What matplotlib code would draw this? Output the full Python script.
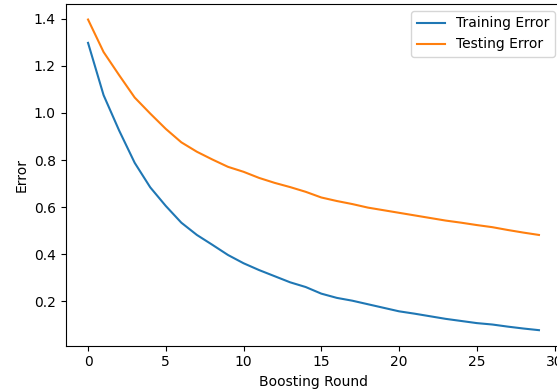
import matplotlib
matplotlib.use("Agg")
import matplotlib.pyplot as plt

# error per boosting round
rounds = list(range(30))
train_err = [1.297, 1.075, 0.925, 0.788, 0.684, 0.605, 0.534, 0.482, 0.440, 0.397,
             0.362, 0.333, 0.307, 0.281, 0.261, 0.233, 0.215, 0.203, 0.188, 0.173,
             0.158, 0.148, 0.137, 0.126, 0.117, 0.108, 0.102, 0.093, 0.085, 0.078]
test_err = [1.396, 1.258, 1.160, 1.065, 0.997, 0.932, 0.875, 0.835, 0.802, 0.771,
            0.750, 0.724, 0.703, 0.685, 0.665, 0.641, 0.626, 0.613, 0.598, 0.587,
            0.576, 0.565, 0.554, 0.543, 0.534, 0.524, 0.515, 0.503, 0.492, 0.482]

fig = plt.figure(figsize=(5.57, 3.9), dpi=100)
# the reference is cropped: axes run slightly past the right edge
ax = fig.add_axes([65.5 / 557, (390 - 345.7) / 390, 496 / 557, 341.7 / 390])
ax.plot(rounds, train_err, label="Training Error")
ax.plot(rounds, test_err, label="Testing Error")
ax.set_xlabel("Boosting Round")
ax.set_ylabel("Error")
ax.legend(loc="upper right")

fig.savefig("out.png", dpi=100)
